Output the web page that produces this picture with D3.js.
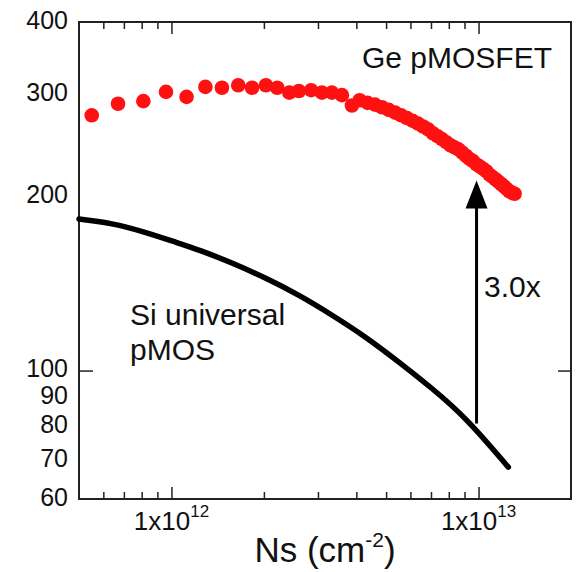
<!DOCTYPE html>
<html>
<head>
<meta charset="utf-8">
<script src="https://cdn.jsdelivr.net/npm/d3@7"></script>
<style>
body { margin: 0; background: #fff; }
text { font-family: "Liberation Sans", Arial, sans-serif; fill: #111; }
</style>
</head>
<body>
<div id="graphHolder"></div>
<script>
// Ge pMOSFET hole mobility, Ns in units of 1e12 cm^-2
var geNs = [0.55, 0.67, 0.81, 0.96, 1.12, 1.29, 1.46, 1.65, 1.83, 2.03, 2.21, 2.42, 2.60, 2.85, 3.09, 3.33, 3.59, 3.87,
    4.1, 4.35, 4.6, 4.85, 5.1, 5.35, 5.6, 5.85, 6.1, 6.35, 6.6, 6.85, 7.1, 7.35, 7.6, 7.85, 8.1, 8.35, 8.6, 8.85,
    9.1, 9.35, 9.6, 9.85, 10.1, 10.35, 10.6, 10.85, 11.1, 11.35, 11.6, 11.85, 12.1, 12.35, 12.6, 12.85, 13.1];
var geMu = [276, 289, 292, 303, 297, 309, 308, 311, 308, 311, 308, 302, 304, 305, 302, 302, 299, 287,
    293, 290, 288, 285, 282, 279, 276, 273, 270, 267, 264, 261, 257, 254, 251, 248, 245, 243, 241, 238,
    235, 232, 230, 227, 225, 223, 221, 218, 216, 214, 212, 210, 208, 206, 204, 203, 202];

// Si universal pMOS curve
var siNs = [0.5, 0.64, 0.82, 1.05, 1.23, 1.58, 2.03, 2.6, 3.33, 4.3, 5.5, 7.04, 9.07, 12.5];
var siMu = [182.7, 179.8, 173.5, 166.1, 161.6, 153.4, 144.5, 135.1, 124.8, 114.3, 103.5, 93.3, 83.1, 68.1];

// 3.0x arrow
var arrowNs = 9.85;
var arrowFrom = 81;
var arrowTo = 213;

var yLabels = [400, 300, 200, 100, 90, 80, 70, 60];
var xMajor = [1, 10];
var xMinor = [0.6, 0.7, 0.8, 0.9, 2, 3, 4, 5, 6, 7, 8, 9];
var xLabelExp = ["12", "13"];

function drawChart() {
    var graphWidth = 580, graphHeight = 572;
    var left = 79, right = 571, top = 22, bottom = 499;

    var svg = d3.select("#graphHolder")
            .append("svg").attr("id", "graph")
            .attr("width", graphWidth)
            .attr("height", graphHeight);

    var x = d3.scaleLog().domain([0.5, 20]).range([left, right]);
    var y = d3.scaleLog().domain([60, 400]).range([bottom, top]);

    // ticks, pointing inward
    function tickAxis(axis, tr) {
        var g = svg.append("g").attr("transform", tr).call(axis);
        g.select(".domain").remove();
        g.selectAll("line").attr("stroke", "#222").attr("stroke-width", 1.5);
        return g;
    }
    tickAxis(d3.axisBottom(x).tickValues(xMinor).tickSizeInner(-7).tickSizeOuter(0).tickFormat(""), "translate(0," + bottom + ")");
    tickAxis(d3.axisBottom(x).tickValues(xMajor).tickSizeInner(-12).tickSizeOuter(0).tickFormat(""), "translate(0," + bottom + ")");
    tickAxis(d3.axisTop(x).tickValues(xMinor).tickSizeInner(-7).tickSizeOuter(0).tickFormat(""), "translate(0," + top + ")");
    tickAxis(d3.axisTop(x).tickValues(xMajor).tickSizeInner(-12).tickSizeOuter(0).tickFormat(""), "translate(0," + top + ")");
    tickAxis(d3.axisLeft(y).tickValues([100]).tickSizeInner(-14).tickSizeOuter(0).tickFormat(""), "translate(" + left + ",0)");
    tickAxis(d3.axisRight(y).tickValues([100]).tickSizeInner(-13).tickSizeOuter(0).tickFormat(""), "translate(" + right + ",0)");

    // y labels
    var yl = svg.append("g").attr("transform", "translate(" + left + ",0)")
            .call(d3.axisLeft(y).tickValues(yLabels).tickSize(0).tickPadding(11).tickFormat(d3.format("d")));
    yl.select(".domain").remove();
    yl.selectAll("text").attr("font-size", 25).attr("dy", "0.24em")
            .attr("font-family", "Liberation Sans, Arial, sans-serif").attr("fill", "#111");

    // x labels with superscripts
    xMajor.forEach(function (v, i) {
        var t = svg.append("text")
                .attr("x", x(v)).attr("y", 530)
                .attr("text-anchor", "middle")
                .attr("font-size", 26);
        t.append("tspan").text("1x10");
        t.append("tspan").attr("font-size", 17).attr("dy", -13).text(xLabelExp[i]);
    });

    // frame
    svg.append("rect")
            .attr("x", left).attr("y", top)
            .attr("width", right - left).attr("height", bottom - top)
            .attr("fill", "none").attr("stroke", "#222").attr("stroke-width", 2);

    // axis title
    var title = svg.append("text")
            .attr("x", (left + right) / 2).attr("y", 562)
            .attr("text-anchor", "middle")
            .attr("font-size", 35);
    title.append("tspan").text("Ns (cm");
    title.append("tspan").attr("font-size", 21).attr("dy", -15).text("-2");
    title.append("tspan").attr("dy", 15).text(")");

    // Si universal curve
    var siData = siNs.map(function (d, i) { return {n: d, mu: siMu[i]}; });
    var line = d3.line()
            .x(function (d) { return x(d.n); })
            .y(function (d) { return y(d.mu); })
            .curve(d3.curveBasis);
    svg.append("path")
            .datum(siData)
            .attr("fill", "none")
            .attr("stroke", "#000")
            .attr("stroke-width", 5.5)
            .attr("stroke-linecap", "round")
            .attr("d", line);

    // Ge dots
    var geData = geNs.map(function (d, i) { return {n: d, mu: geMu[i]}; });
    svg.append("g").selectAll("circle")
            .data(geData)
            .enter().append("circle")
            .attr("cx", function (d) { return x(d.n); })
            .attr("cy", function (d) { return y(d.mu); })
            .attr("r", 7.3)
            .attr("fill", "#ff1111");

    // arrow
    var ax = x(arrowNs), ay0 = y(arrowFrom), ay1 = y(arrowTo);
    svg.append("line")
            .attr("x1", ax).attr("x2", ax)
            .attr("y1", ay0).attr("y2", ay1 + 20)
            .attr("stroke", "#000").attr("stroke-width", 3);
    svg.append("path")
            .attr("d", "M" + ax + "," + ay1 + "L" + (ax + 11) + "," + (ay1 + 28) + "L" + (ax - 11) + "," + (ay1 + 28) + "Z")
            .attr("fill", "#000");

    // annotations
    svg.append("text").attr("x", 362).attr("y", 68).attr("font-size", 30).text("Ge pMOSFET");
    svg.append("text").attr("x", 130).attr("y", 325).attr("font-size", 30).text("Si universal");
    svg.append("text").attr("x", 130).attr("y", 360).attr("font-size", 30).text("pMOS");
    svg.append("text").attr("x", 484).attr("y", 297).attr("font-size", 30).text("3.0x");
}

drawChart();
</script>
</body>
</html>
